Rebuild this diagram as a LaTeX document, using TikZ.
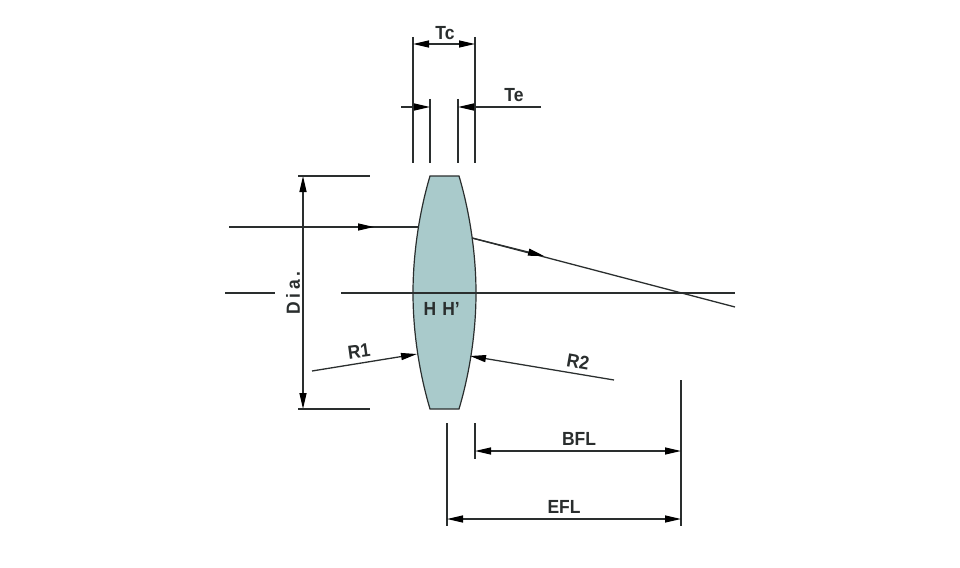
\documentclass[tikz,border=0pt]{standalone}
\usepackage{fontspec}
\setmainfont[FakeStretch=0.92]{Liberation Sans}
\usetikzlibrary{arrows.meta}
\definecolor{lensfill}{HTML}{A9CACB}
\definecolor{inkc}{HTML}{2A2E2E}
\tikzset{
  ln/.style={draw=inkc,line width=1.3pt},
  dimboth/.style={ln,{Triangle[length=16pt,width=7pt,color=black]}-{Triangle[length=16pt,width=7pt,color=black]}},
  dimend/.style={ln,-{Triangle[length=16pt,width=7pt,color=black]}},
  lab/.style={font=\fontsize{19}{21}\selectfont\bfseries,text=inkc,inner sep=0pt},
}
\begin{document}
\begin{tikzpicture}[x=1pt,y=-1pt]
\useasboundingbox (0,0) rectangle (960,567);
% lens
\path[fill=lensfill,draw=inkc,line width=1.2pt] (430,176) -- (459,176)
  .. controls (470,213) and (476,255) .. (476,293)
  .. controls (476,331) and (470,372) .. (459,409) -- (430,409)
  .. controls (419,372) and (413,331) .. (413,293)
  .. controls (413,255) and (419,213) .. (430,176) -- cycle;
% coordinates
\coordinate (tcL0) at (413,37); \coordinate (tcL1) at (413,163);
\coordinate (tcR0) at (475,37); \coordinate (tcR1) at (475,163);
\coordinate (teL0) at (430,99); \coordinate (teL1) at (430,163);
\coordinate (teR0) at (458,99); \coordinate (teR1) at (458,163);
\coordinate (tcA) at (413,44); \coordinate (tcB) at (475,44);
\coordinate (teA) at (401,107);
\coordinate (teB) at (541,107); \coordinate (teBe) at (458,107);
\coordinate (teC) at (430,107);
\coordinate (diaT) at (303,176); \coordinate (diaB) at (303,409);
\coordinate (diaTa) at (298,176); \coordinate (diaTb) at (370,176);
\coordinate (diaBa) at (298,409); \coordinate (diaBb) at (370,409);
\coordinate (rayA) at (229,227); \coordinate (rayAm) at (374,227); \coordinate (rayAe) at (419,227);
\coordinate (rayB) at (472,238); \coordinate (rayBm) at (544,256); \coordinate (rayBe) at (735,307);
\coordinate (axA) at (225,293); \coordinate (axAe) at (275,293);
\coordinate (axB) at (341,293); \coordinate (axBe) at (735,293);
\coordinate (r1a) at (312,371); \coordinate (r1b) at (417,354);
\coordinate (r2a) at (614,380); \coordinate (r2b) at (470,356);
\coordinate (hL) at (447,423); \coordinate (hLb) at (447,526);
\coordinate (bL) at (475,423); \coordinate (bLb) at (475,459);
\coordinate (fT) at (681,380); \coordinate (fB) at (681,526);
\coordinate (bflA) at (475,451); \coordinate (bflB) at (681,451);
\coordinate (eflA) at (447,519); \coordinate (eflB) at (681,519);
% extension lines
\draw[ln] (tcL0)--(tcL1); \draw[ln] (tcR0)--(tcR1);
\draw[ln] (teL0)--(teL1); \draw[ln] (teR0)--(teR1);
\draw[dimboth] (tcA)--(tcB);
\draw[dimend] (teA)--(teC);
\draw[dimend] (teB)--(teBe);
\draw[dimboth] (diaT)--(diaB);
\draw[ln] (diaTa)--(diaTb); \draw[ln] (diaBa)--(diaBb);
\draw[ln] (rayA)--(rayAe); \draw[dimend] (rayA)--(rayAm);
\draw[ln] (rayB)--(rayBe); \draw[dimend] (rayB)--(rayBm);
\draw[ln] (axA)--(axAe); \draw[ln] (axB)--(axBe);
\draw[dimend] (r1a)--(r1b); \draw[dimend] (r2a)--(r2b);
\draw[ln] (hL)--(hLb); \draw[ln] (bL)--(bLb); \draw[ln] (fT)--(fB);
\draw[dimboth] (bflA)--(bflB); \draw[dimboth] (eflA)--(eflB);
% labels
\node[lab] (tc) at (445,33) {Tc};
\node[lab] (te) at (514,95) {Te};
\node[lab,rotate=90] (dia) at (293,293) {\addfontfeatures{LetterSpace=18}Dia.};
\node[lab] (h) at (430,309) {H};
\node[lab] (hp) at (451,309) {H'};
\node[lab,rotate=8] (r1) at (359,351) {R1};
\node[lab,rotate=-10] (r2) at (578,362) {R2};
\node[lab] (bfl) at (579,439) {BFL};
\node[lab] (efl) at (564,507) {EFL};
\end{tikzpicture}
\end{document}
